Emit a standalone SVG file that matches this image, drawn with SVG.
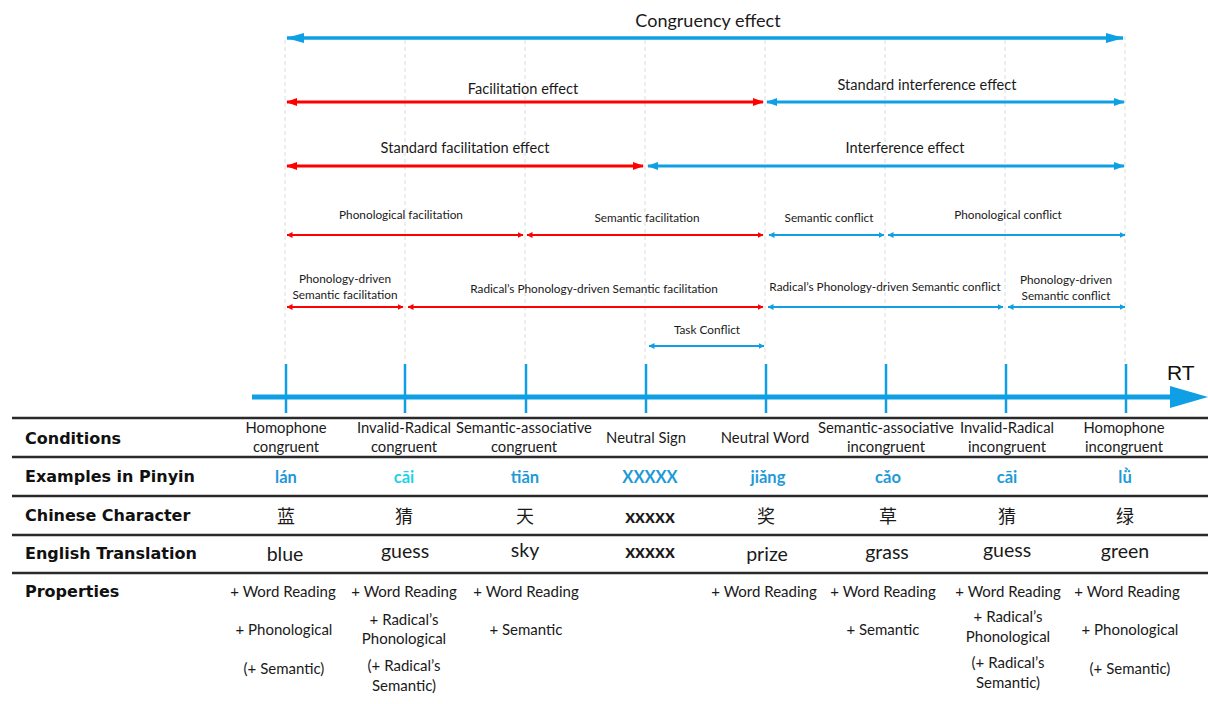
<svg xmlns="http://www.w3.org/2000/svg" width="1208" height="704" viewBox="0 0 1208 704">
<style>
text{font-family:Lato,"Open Sans","Noto Sans CJK SC",sans-serif;fill:#1a1a1a}
.c{text-anchor:middle}
.lbl{font-size:14.6px}
.big{font-size:18px}
.sm{font-size:11.8px}
.row{font-family:"DejaVu Sans",sans-serif;font-weight:bold;font-size:16px;fill:#111}
.cond{font-size:14.8px;text-anchor:middle}
.py{font-weight:bold;font-size:16.5px;text-anchor:middle;fill:#1E9AD8}
.cn{font-family:"Noto Sans CJK SC",sans-serif;font-size:18px;text-anchor:middle}
.en{font-size:19.5px;text-anchor:middle}
.xx{font-weight:bold;font-size:19px;text-anchor:middle}
.pr{font-size:15px;text-anchor:middle}
.guide{stroke:#dcdcdc;stroke-width:1;stroke-dasharray:4 3;fill:none}
.tbl{stroke:#2a2a2a;stroke-width:2.5}
.tick{stroke:#0E9FE5;stroke-width:2.5}
.r1{stroke:#0E9FE5;stroke-width:3.5;fill:none;marker-start:url(#bB);marker-end:url(#bB)}
.rb{stroke:#0E9FE5;stroke-width:3;fill:none;marker-start:url(#mB);marker-end:url(#mB)}
.rr{stroke:#FF0000;stroke-width:3;fill:none;marker-start:url(#mR);marker-end:url(#mR)}
.sb{stroke:#0E9FE5;stroke-width:2;fill:none;marker-start:url(#sB);marker-end:url(#sB)}
.sr{stroke:#FF0000;stroke-width:2.2;fill:none;marker-start:url(#sR);marker-end:url(#sR)}
</style>
<defs>
<marker id="bB" markerUnits="userSpaceOnUse" markerWidth="18" markerHeight="10" refX="17" refY="5" orient="auto-start-reverse"><path d="M0,0 L18,5 L0,10 z" fill="#0E9FE5"/></marker>
<marker id="mB" markerUnits="userSpaceOnUse" markerWidth="11" markerHeight="8" refX="10" refY="4" orient="auto-start-reverse"><path d="M0,0 L11,4 L0,8 z" fill="#0E9FE5"/></marker>
<marker id="mR" markerUnits="userSpaceOnUse" markerWidth="11" markerHeight="8" refX="10" refY="4" orient="auto-start-reverse"><path d="M0,0 L11,4 L0,8 z" fill="#FF0000"/></marker>
<marker id="sB" markerUnits="userSpaceOnUse" markerWidth="6" markerHeight="6" refX="5.5" refY="3" orient="auto-start-reverse"><path d="M0,0 L6,3 L0,6 z" fill="#0E9FE5"/></marker>
<marker id="sR" markerUnits="userSpaceOnUse" markerWidth="6" markerHeight="6" refX="5.5" refY="3" orient="auto-start-reverse"><path d="M0,0 L6,3 L0,6 z" fill="#FF0000"/></marker>
</defs>
<rect width="1208" height="704" fill="#fff"/>

<g id="guides">
<line class="guide" x1="285" y1="40" x2="285" y2="362"/>
<line class="guide" x1="405" y1="40" x2="405" y2="362"/>
<line class="guide" x1="525" y1="40" x2="525" y2="362"/>
<line class="guide" x1="645" y1="40" x2="645" y2="362"/>
<line class="guide" x1="765" y1="40" x2="765" y2="362"/>
<line class="guide" x1="885" y1="40" x2="885" y2="362"/>
<line class="guide" x1="1005" y1="40" x2="1005" y2="362"/>
<line class="guide" x1="1125" y1="36" x2="1125" y2="362"/>
</g>

<g id="connectors">
<line class="r1" x1="287" y1="38" x2="1123" y2="38"/>
<line class="rr" x1="287" y1="102" x2="763" y2="102"/>
<line class="rb" x1="767" y1="102" x2="1124" y2="102"/>
<line class="rr" x1="287" y1="166" x2="643" y2="166"/>
<line class="rb" x1="648" y1="166" x2="1124" y2="166"/>
<line class="sr" x1="287" y1="235" x2="523" y2="235"/>
<line class="sr" x1="527" y1="235" x2="763" y2="235"/>
<line class="sb" x1="769" y1="235" x2="884" y2="235"/>
<line class="sb" x1="888" y1="235" x2="1125" y2="235"/>
<line class="sr" x1="287" y1="307" x2="403" y2="307"/>
<line class="sr" x1="408" y1="307" x2="763" y2="307"/>
<line class="sb" x1="768" y1="307" x2="1003" y2="307"/>
<line class="sb" x1="1008" y1="307" x2="1125" y2="307"/>
<line class="sb" x1="649" y1="346" x2="764" y2="346"/>
</g>

<g id="effect-labels">
<text class="big c" x="708" y="27">Congruency effect</text>
<text class="lbl c" x="523" y="94">Facilitation effect</text>
<text class="lbl c" x="927" y="90">Standard interference effect</text>
<text class="lbl c" x="465" y="153">Standard facilitation effect</text>
<text class="lbl c" x="905" y="153">Interference effect</text>
<text class="sm c" x="401" y="219">Phonological facilitation</text>
<text class="sm c" x="647" y="222">Semantic facilitation</text>
<text class="sm c" x="829" y="222">Semantic conflict</text>
<text class="sm c" x="1008" y="219">Phonological conflict</text>
<text class="sm c" x="345" y="283">Phonology-driven</text>
<text class="sm c" x="345" y="299">Semantic facilitation</text>
<text class="sm c" x="594" y="293">Radical’s Phonology-driven Semantic facilitation</text>
<text class="sm c" x="885" y="291">Radical’s Phonology-driven Semantic conflict</text>
<text class="sm c" x="1066" y="284">Phonology-driven</text>
<text class="sm c" x="1066" y="300">Semantic conflict</text>
<text class="sm c" x="707" y="334">Task Conflict</text>
</g>

<g id="axis">
<line x1="252" y1="397" x2="1174" y2="397" stroke="#0E9FE5" stroke-width="5"/>
<path d="M1170,386 L1208,397 L1170,408 z" fill="#0E9FE5"/>
<line class="tick" x1="286" y1="364" x2="286" y2="413"/>
<line class="tick" x1="405" y1="364" x2="405" y2="413"/>
<line class="tick" x1="526" y1="364" x2="526" y2="413"/>
<line class="tick" x1="646" y1="364" x2="646" y2="413"/>
<line class="tick" x1="766" y1="364" x2="766" y2="413"/>
<line class="tick" x1="886" y1="364" x2="886" y2="413"/>
<line class="tick" x1="1006" y1="364" x2="1006" y2="413"/>
<line class="tick" x1="1126" y1="364" x2="1126" y2="413"/>
<text x="1167" y="380" style="font-family:'Liberation Sans',sans-serif;font-size:21px;fill:#111">RT</text>
</g>

<g id="table-lines">
<line class="tbl" x1="12" y1="418" x2="1208" y2="418"/>
<line class="tbl" x1="12" y1="457" x2="1208" y2="457"/>
<line class="tbl" x1="12" y1="496" x2="1208" y2="496"/>
<line class="tbl" x1="12" y1="535" x2="1208" y2="535"/>
<line class="tbl" x1="12" y1="573" x2="1208" y2="573"/>
</g>

<g id="row-labels">
<text class="row" x="25" y="444">Conditions</text>
<text class="row" x="25" y="482">Examples in Pinyin</text>
<text class="row" x="25" y="521">Chinese Character</text>
<text class="row" x="25" y="559">English Translation</text>
<text class="row" x="25" y="597">Properties</text>
</g>

<g id="col-homophone-congruent">
<text class="cond" x="286" y="433">Homophone</text>
<text class="cond" x="286" y="452">congruent</text>
<text class="py" x="286" y="483" style="fill:#1E96D8">lán</text>
<text class="cn" x="286" y="523">蓝</text>
<text class="en" x="285" y="561">blue</text>
<text class="pr" x="283" y="597">+ Word Reading</text>
<text class="pr" x="284" y="635">+ Phonological</text>
<text class="pr" x="284" y="674">(+ Semantic)</text>
</g>

<g id="col-invalid-radical-congruent">
<text class="cond" x="404" y="433">Invalid-Radical</text>
<text class="cond" x="404" y="452">congruent</text>
<text class="py" x="404" y="483" style="fill:#22D0EA">cāi</text>
<text class="cn" x="404" y="523">猜</text>
<text class="en" x="405" y="558">guess</text>
<text class="pr" x="404" y="597">+ Word Reading</text>
<text class="pr" x="404" y="625">+ Radical’s</text>
<text class="pr" x="404" y="644">Phonological</text>
<text class="pr" x="404" y="671">(+ Radical’s</text>
<text class="pr" x="404" y="691">Semantic)</text>
</g>

<g id="col-semantic-associative-congruent">
<text class="cond" x="524" y="433">Semantic-associative</text>
<text class="cond" x="524" y="452">congruent</text>
<text class="py" x="525" y="483">tiān</text>
<text class="cn" x="525" y="523">天</text>
<text class="en" x="525" y="557">sky</text>
<text class="pr" x="526" y="597">+ Word Reading</text>
<text class="pr" x="526" y="635">+ Semantic</text>
</g>

<g id="col-neutral-sign">
<text class="cond" x="646" y="443">Neutral Sign</text>
<text class="py" x="650" y="483">XXXXX</text>
<text class="xx" x="650" y="523">xxxxx</text>
<text class="xx" x="650" y="558">xxxxx</text>
</g>

<g id="col-neutral-word">
<text class="cond" x="765" y="443">Neutral Word</text>
<text class="py" x="768" y="483">jiǎng</text>
<text class="cn" x="766" y="523">奖</text>
<text class="en" x="767" y="561">prize</text>
<text class="pr" x="764" y="597">+ Word Reading</text>
</g>

<g id="col-semantic-associative-incongruent">
<text class="cond" x="886" y="433">Semantic-associative</text>
<text class="cond" x="886" y="452">incongruent</text>
<text class="py" x="888" y="483">cǎo</text>
<text class="cn" x="888" y="523">草</text>
<text class="en" x="887" y="559">grass</text>
<text class="pr" x="883" y="597">+ Word Reading</text>
<text class="pr" x="883" y="635">+ Semantic</text>
</g>

<g id="col-invalid-radical-incongruent">
<text class="cond" x="1007" y="433">Invalid-Radical</text>
<text class="cond" x="1007" y="452">incongruent</text>
<text class="py" x="1007" y="483">cāi</text>
<text class="cn" x="1007" y="523">猜</text>
<text class="en" x="1007" y="557">guess</text>
<text class="pr" x="1008" y="597">+ Word Reading</text>
<text class="pr" x="1008" y="622">+ Radical’s</text>
<text class="pr" x="1008" y="642">Phonological</text>
<text class="pr" x="1008" y="668">(+ Radical’s</text>
<text class="pr" x="1008" y="688">Semantic)</text>
</g>

<g id="col-homophone-incongruent">
<text class="cond" x="1124" y="433">Homophone</text>
<text class="cond" x="1124" y="452">incongruent</text>
<text class="py" x="1125" y="483">lǜ</text>
<text class="cn" x="1125" y="523">绿</text>
<text class="en" x="1125" y="558">green</text>
<text class="pr" x="1127" y="597">+ Word Reading</text>
<text class="pr" x="1130" y="635">+ Phonological</text>
<text class="pr" x="1130" y="674">(+ Semantic)</text>
</g>
</svg>
